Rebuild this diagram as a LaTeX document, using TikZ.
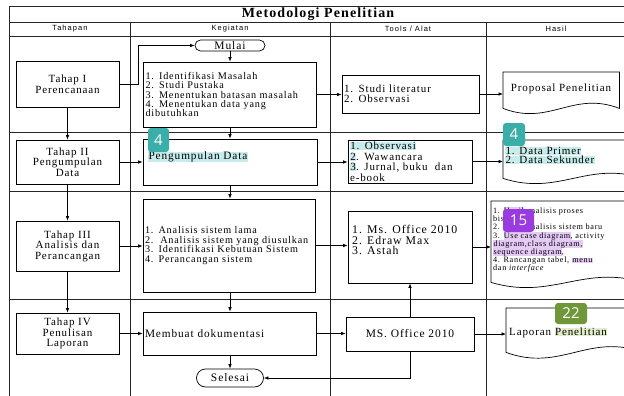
\documentclass[tikz,border=0pt]{standalone}
\usepackage{fontspec}
\setmainfont{Liberation Serif}[LetterSpace=8]
\newfontfamily\hdrfont{Liberation Sans}[LetterSpace=14]
\newfontfamily\badgefont{Open Sans}
\usetikzlibrary{shapes.misc,arrows.meta,calc}
\definecolor{tealb}{HTML}{3AAFA9}
\definecolor{cyanh}{HTML}{C8ECEC}
\definecolor{purpb}{HTML}{9A3BE0}
\definecolor{purph}{HTML}{E5CAF5}
\definecolor{greenb}{HTML}{6F9638}
\definecolor{greenh}{HTML}{E2EDCB}
\newcommand\hlbox[2]{{\setlength{\fboxsep}{0.3pt}\colorbox{#1}{#2}}}
\newcommand\kfont{\fontsize{10.2}{9.4}\selectfont}
\newcommand\kbig{\fontsize{11.3}{11}\selectfont}
\newcommand\tfont{\fontsize{11}{10.5}\selectfont}
\newcommand\afont{\fontsize{11}{10.4}\selectfont}
\newcommand\dfont{\fontsize{11}{9.5}\selectfont}
\newcommand\sfont{\fontsize{8.2}{8.2}\selectfont}
\newcommand\docpath[2]{%
  \draw[line width=0.7pt] (#1.north west) -- (#1.north east) -- (#1.south east)
    .. controls ($(#1.south west)!0.6!(#1.south east)+(0,-#2)$) and ($(#1.south west)!0.4!(#1.south east)+(0,#2)$) .. (#1.south west) -- cycle;}
\begin{document}
\begin{tikzpicture}[x=1pt,y=-1pt,
  tline/.style={line width=0.8pt, black!85},
  pbox/.style={draw, line width=0.7pt, inner sep=2pt},
  tahap/.style={pbox, minimum width=103pt, text width=99pt, align=center, font=\tfont},
  keg/.style={pbox, align=left, font=\kfont},
  tool/.style={pbox, align=left, font=\afont},
  term/.style={draw, rounded rectangle, line width=0.7pt, inner sep=0.5pt, font=\fontsize{11.5}{11.5}\selectfont},
  docbox/.style={draw=none, inner sep=0pt, anchor=north west},
  arr/.style={-{Latex[length=4.5pt,width=3.6pt]}, line width=0.7pt},
  badge/.style={rounded corners=3pt, text=white, inner sep=0pt, font=\badgefont\fontsize{15}{15}\selectfont},
  hdr/.style={font=\hdrfont\fontsize{7.5}{8}\selectfont}
]
\useasboundingbox (0,0) rectangle (624,396);
\fill[white] (0,0) rectangle (624,396);
\clip (0,0) rectangle (624,396);

% table frame
\draw[tline] (9,6) -- (640,6);
\draw[tline] (9,6) -- (9,400);
\draw[tline] (9,22) -- (640,22);
\draw[tline] (9,36) -- (640,36);
\draw[tline] (9,132) -- (640,132);
\draw[tline] (9,191) -- (640,191);
\draw[tline] (9,299) -- (640,299);
\draw[tline] (130,22) -- (130,400);
\draw[tline] (330,22) -- (330,400);
\draw[tline] (486,22) -- (486,400);

\node[font=\bfseries\fontsize{14}{14}\selectfont] (title) at (318,14) {Metodologi Penelitian};
\node[hdr] (hA) at (70,29) {Tahapan};
\node[hdr] (hB) at (230,29) {Kegiatan};
\node[hdr] (hC) at (408,29) {Tools / Alat};
\node[hdr] (hD) at (556,29) {Hasil};

% Tahapan
\node[tahap, minimum height=46pt] (t1) at (67.5,84) {Tahap I\\Perencanaan};
\node[tahap, minimum height=44pt] (t2) at (67.5,162) {Tahap II\\Pengumpulan\\Data};
\node[tahap, minimum height=50pt] (t3) at (67.5,246) {Tahap III\\Analisis dan\\Perancangan};
\node[tahap, minimum height=41pt] (t4) at (67.5,333.5) {Tahap IV\\Penulisan\\Laporan};

% Kegiatan
\node[term, minimum width=71pt, minimum height=11pt] (mulai) at (230,45.5) {Mulai};
\node[keg, minimum width=173pt, text width=169pt, minimum height=65pt] (k1) at (230,94.5)
  {1. Identifikasi Masalah\\2. Studi Pustaka\\3. Menentukan batasan masalah\\4. Menentukan data yang\\dibutuhkan};
\node[keg, minimum width=174pt, minimum height=46pt] (k2) at (230,162) {};
\node[anchor=west, font=\kbig, inner sep=0pt] (k2t) at (148,157) {\hlbox{cyanh}{Pengumpulan Data}};
\node[keg, minimum width=172pt, text width=168pt, minimum height=93pt] (k3) at (229,245.5)
  {1. Analisis sistem lama\\2.\ \ Analisis sistem yang diusulkan\\3. Identifikasi Kebutuan Sistem\\4. Perancangan sistem};
\node[keg, minimum width=173pt, text width=169pt, minimum height=43pt, font=\kbig] (k4) at (229.5,333.5) {Membuat dokumentasi};
\node[term, minimum width=68pt, minimum height=18pt] (selesai) at (230,378) {Selesai};

% Tools
\node[tool, minimum width=137pt, text width=133pt, minimum height=38pt] (a1) at (410.5,94) {1. Studi literatur\\2. Observasi};
\node[tool, minimum width=124pt, text width=120pt, minimum height=43pt] (a2) at (410,161.5)
  {\hlbox{cyanh}{1. Observasi}\\\hlbox{cyanh}{2}. Wawancara\\\hlbox{cyanh}{3}. Jurnal, buku\ \ dan\\e-book};
\node[tool, minimum width=124pt, minimum height=72pt] (a3) at (410,247) {};
\node[anchor=west, align=left, font=\fontsize{11.8}{10.8}\selectfont, inner sep=0pt] (a3t) at (352,240) {1. Ms. Office 2010\\2. Edraw Max\\3. Astah};
\node[pbox, minimum width=128pt, minimum height=34pt, font=\fontsize{11.5}{11}\selectfont] (a4) at (410,334) {MS. Office 2010};

% Hasil documents
\node[docbox, minimum width=116pt, minimum height=36pt] (h1) at (503,72) {};
\node[docbox, minimum width=140pt, minimum height=38pt] (h2) at (503,140) {};
\node[docbox, minimum width=152pt, minimum height=81pt] (h3) at (491,201) {};
\node[docbox, minimum width=137pt, minimum height=44pt] (h4) at (506,308) {};
\docpath{h1}{18}
\docpath{h2}{18}
\docpath{h3}{18}
\docpath{h4}{20}
\node[font=\dfont, inner sep=0pt] (h1t) at (561,88.5) {Proposal Penelitian};
\node[anchor=west, align=left, font=\dfont, inner sep=0pt] (h2t) at (505,155.5)
  {\hlbox{cyanh}{1. Data Primer}\\\hlbox{cyanh}{2. Data Sekunder}};
\node[anchor=west, align=left, font=\sfont, inner sep=0pt] (h3t) at (493,240)
  {1. \hlbox{purph}{Hasil} analisis proses\\bisnis\\2. \hlbox{purph}{Hasil} analisis sistem baru\\3. \hlbox{purph}{Use case diagram}, activity\\\hlbox{purph}{diagram,class diagram,}\\\hlbox{purph}{sequence diagram},\\4. Rancangan tabel, \hlbox{purph}{menu}\\dan \textit{interface}};
\node[anchor=west, font=\dfont, inner sep=0pt] (h4t) at (509,333) {Laporan \hlbox{greenh}{Penelitian}};

% connectors
\coordinate (c1) at (138,84);
\draw[arr] (t1.east) -- (c1) |- (mulai.west);
\draw[arr] (t1.south) -- (t2.north);
\draw[arr] (t2.south) -- (t3.north);
\draw[arr] (t3.south) -- (t4.north);
\draw[arr] (mulai.south) -- (mulai.south |- k1.north);
\draw[arr] (k1.south) -- (k1.south |- k2.north);
\draw[arr] (k2.south) -- (k2.south |- k3.north);
\draw[arr] (k3.south -| k2.south) -- (k2.south |- k4.north);
\draw[arr] (k4.south -| selesai.north) -- (selesai.north);
\draw[arr] (t2.east) -- (t2.east -| k2.west);
\draw[arr] (t3.east) -- (t3.east -| k3.west);
\draw[arr] (t4.east) -- (t4.east -| k4.west);
\draw[arr] (k1.east) -- (k1.east -| a1.west);
\draw[arr] (k2.east) -- (k2.east -| a2.west);
\draw[arr] (k3.east) -- (k3.east -| a3.west);
\draw[arr] (k4.east) -- (k4.east -| a4.west);
\draw[arr] (a1.east) -- (a1.east -| h1.west);
\draw[arr] (a2.east) -- (a2.east -| h2.west);
\draw[arr] (a3.east) -- (a3.east -| h3.west);
\draw[arr] (a4.east) -- (a4.east -| h4.west);
\draw[arr] (a4.north) -- (a3.south);
\draw[arr] (a4.south) |- (selesai.east);

% badges
\node[badge, fill=tealb, minimum width=21pt, minimum height=24pt] (b1) at (158.5,140) {4};
\node[badge, fill=tealb, minimum width=22pt, minimum height=23pt] (b2) at (514,134.5) {4};
\node[badge, fill=purpb, minimum width=31pt, minimum height=23pt] (b3) at (518.5,220.5) {15};
\node[badge, fill=greenb, minimum width=32pt, minimum height=21pt] (b4) at (571,313.5) {22};
\end{tikzpicture}
\end{document}
